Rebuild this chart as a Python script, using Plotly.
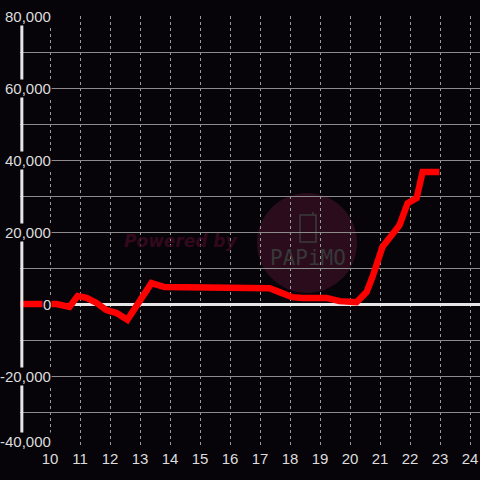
import plotly.graph_objects as go

# ---- data ----
x_vals = [9.0, 10.22, 10.65, 10.92, 11.22, 11.55, 11.88, 12.22, 12.58, 13.38, 13.82,
          15.55, 15.98, 17.32, 17.65, 18.08, 18.42, 19.22, 19.65, 20.22, 20.55,
          20.75, 21.08, 21.65, 21.92, 22.22, 22.42, 22.98]
y_vals = [0, 0, -800, 2200, 1700, 300, -1700, -2500, -4400, 5800, 4700,
          4700, 4400, 4400, 3300, 1900, 1700, 1700, 800, 500, 3300,
          7500, 15800, 21900, 28000, 29400, 36700, 36700]
x_ticks = list(range(10, 25))
y_label_vals = [80000, 60000, 40000, 20000, 0, -20000, -40000]
y_label_text = ["80,000", "60,000", "40,000", "20,000", "0", "-20,000", "-40,000"]

BG = "#060409"
X0, X1 = 9.0, 24.0 + 1 / 3
Y0, Y1 = -40000, 80000
L, T, W, H = 20, 16, 460, 432


def px2x(px):
    return X0 + (px - L) / W * (X1 - X0)


def px2y(py):
    return Y1 - (py - T) / H * (Y1 - Y0)


fig = go.Figure()
fig.add_trace(go.Scatter(x=x_vals, y=y_vals, mode="lines",
                         line=dict(color="#ff0000", width=6.5),
                         hoverinfo="skip", showlegend=False))

shapes = []
# watermark circle
cx, cy, r = 307, 243, 50
shapes.append(dict(type="circle", xref="x", yref="y", layer="below",
                   x0=px2x(cx - r), x1=px2x(cx + r), y0=px2y(cy + r), y1=px2y(cy - r),
                   fillcolor="#2a0c1d", line=dict(width=0)))
# phone icon
shapes.append(dict(type="rect", xref="x", yref="y", layer="below",
                   x0=px2x(300), x1=px2x(316), y0=px2y(242), y1=px2y(215),
                   line=dict(color="#3a3a3a", width=1.5)))
shapes.append(dict(type="line", xref="x", yref="y", layer="below",
                   x0=px2x(313), x1=px2x(313), y0=px2y(215), y1=px2y(212),
                   line=dict(color="#3a3a3a", width=1.5)))
# left axis line
shapes.append(dict(type="line", xref="paper", yref="paper", layer="above",
                   x0=0.004, x1=0.004, y0=0, y1=1,
                   line=dict(color="#e6e6e6", width=3)))

annotations = []
annotations.append(dict(text="<b><i>Powered by</i></b>", x=px2x(181), y=px2y(241),
                        xref="x", yref="y", showarrow=False,
                        font=dict(family="DejaVu Sans", size=17, color="rgba(62,10,34,0.8)")))
annotations.append(dict(text="PAPiMO", x=px2x(308), y=px2y(258),
                        xref="x", yref="y", showarrow=False,
                        font=dict(family="DejaVu Sans Mono", size=21, color="#383838")))
for v, t in zip(y_label_vals, y_label_text):
    annotations.append(dict(text=t, x=(52 - L) / W, y=v, xref="paper", yref="y",
                            xanchor="right", yanchor="middle", showarrow=False,
                            yshift=7 if v == -40000 else 0,
                            bgcolor=BG, borderpad=0,
                            font=dict(family="Liberation Sans, Arial", size=15, color="#dddddd")))

fig.update_layout(
    width=480, height=480,
    margin=dict(l=L, r=0, t=T, b=480 - T - H),
    paper_bgcolor=BG, plot_bgcolor=BG,
    shapes=shapes, annotations=annotations,
    xaxis=dict(range=[X0, X1], tickvals=x_ticks, ticktext=[str(v) for v in x_ticks],
               showgrid=True, gridcolor="#9a9a9a", gridwidth=1, griddash="3px,3px",
               zeroline=False, showline=False, ticks="",
               tickfont=dict(family="Liberation Sans, Arial", size=15, color="#dddddd")),
    yaxis=dict(range=[Y0, Y1], dtick=10000, tick0=0,
               showgrid=True, gridcolor="#8c8c8c", gridwidth=1,
               zeroline=True, zerolinecolor="#e6e6e6", zerolinewidth=3,
               showline=False, showticklabels=False, ticks=""),
)

fig.write_html("out.html", config={"displayModeBar": False},
               post_script="document.body.style.margin='0px';document.body.style.background='" + BG + "';")
